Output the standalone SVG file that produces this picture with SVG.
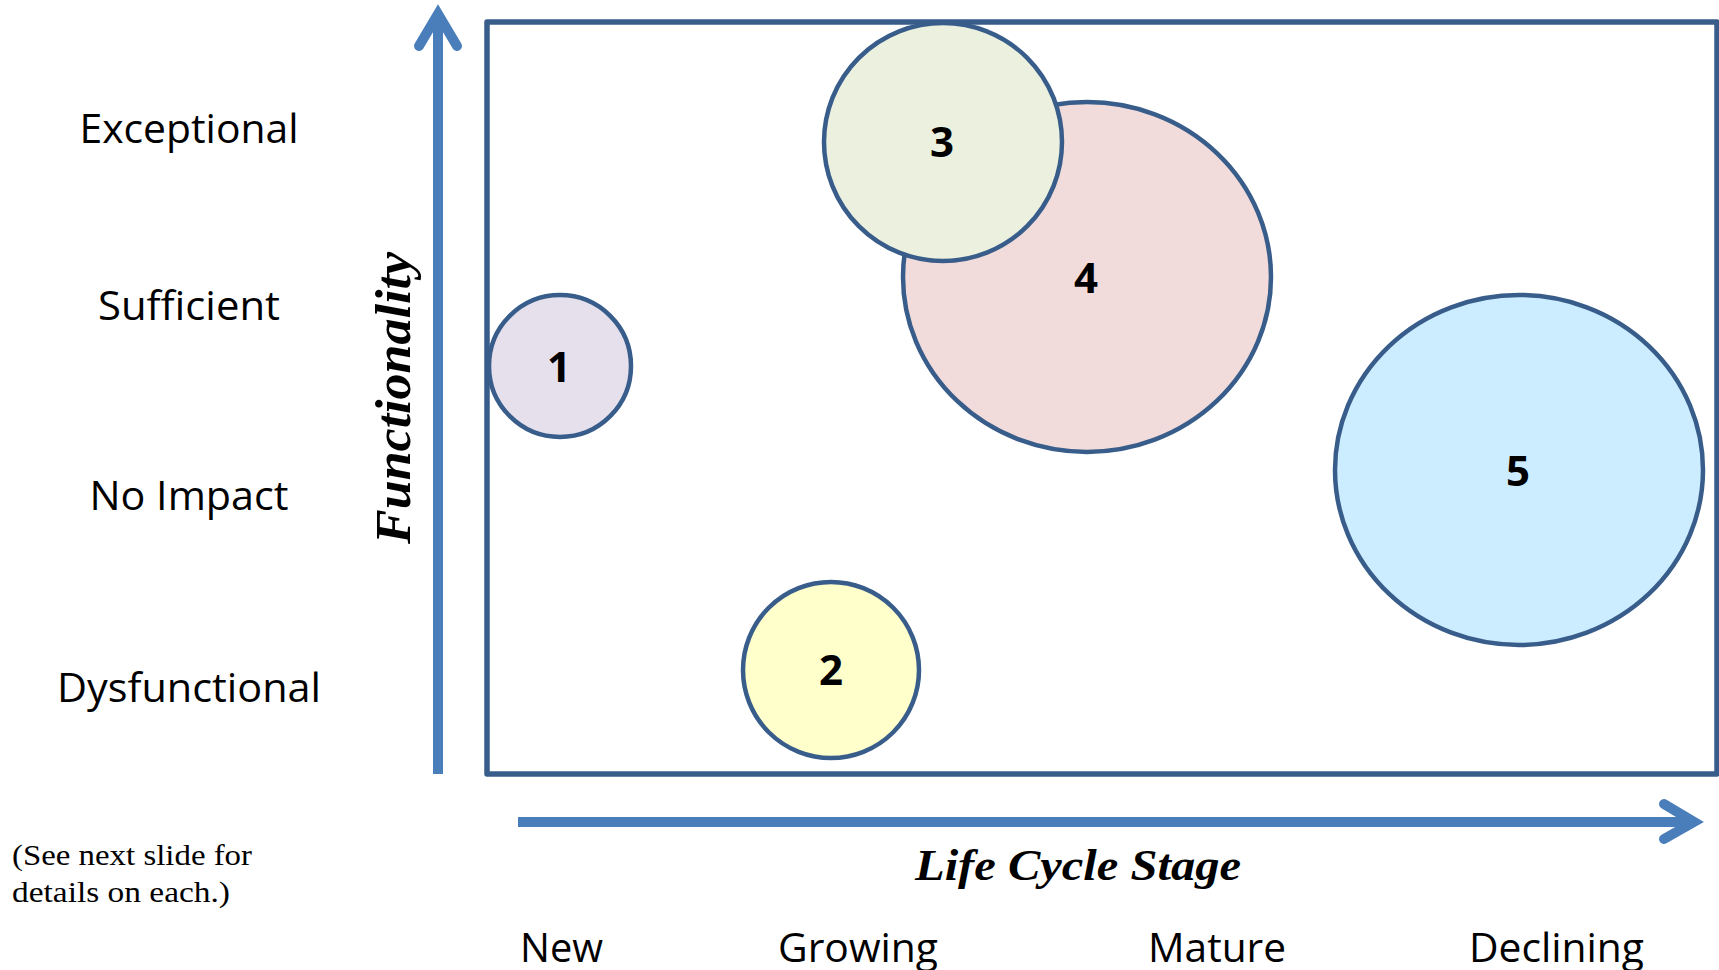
<svg xmlns="http://www.w3.org/2000/svg" width="1719" height="970" viewBox="0 0 1719 970">
  <style>
    .axis { fill: none; stroke: #4A7EBB; stroke-width: 10; }
    .head { fill: none; stroke: #4A7EBB; stroke-width: 10; stroke-linecap: round; stroke-linejoin: miter; }
    .frame { fill: none; stroke: #385D8A; stroke-width: 5.5; stroke-linejoin: round; }
    .bubble { stroke: #385D8A; stroke-width: 4.5; }
    .num { font-family: "Open Sans", "Liberation Sans", sans-serif; font-weight: bold; font-size: 42px; fill: #000; text-anchor: middle; }
    .level { font-family: "Open Sans", "Liberation Sans", sans-serif; font-size: 40px; fill: #000; text-anchor: middle; }
    .stage { font-family: "Open Sans", "Liberation Sans", sans-serif; font-size: 40px; fill: #000; }
    .title { font-family: "Liberation Serif", serif; font-weight: bold; font-style: italic; fill: #000; text-anchor: middle; }
    .note { font-family: "Liberation Serif", serif; font-size: 29px; fill: #000; }
  </style>

  <rect width="1719" height="970" fill="#FFFFFF"/>

  <!-- plot frame -->
  <rect class="frame" x="487" y="22" width="1230" height="752"/>

  <!-- axis arrows -->
  <g id="connectors">
    <line class="axis" x1="438" y1="774" x2="438" y2="18"/>
    <polyline class="head" points="419,46 438,14 457,46"/>
    <line class="axis" x1="518" y1="822" x2="1690" y2="822"/>
    <polyline class="head" points="1664,804 1694,822 1664,839"/>
  </g>

  <!-- bubbles -->
  <g id="node-1">
    <ellipse class="bubble" cx="560" cy="366" rx="71" ry="71" fill="#E6E0EC"/>
    <text class="num" x="559" y="382">1</text>
  </g>
  <g id="node-2">
    <ellipse class="bubble" cx="831" cy="670" rx="88" ry="88" fill="#FFFFCC"/>
    <text class="num" x="831" y="685">2</text>
  </g>
  <g id="node-4">
    <ellipse class="bubble" cx="1087" cy="277" rx="184" ry="175" fill="#F2DCDB"/>
    <text class="num" x="1086" y="293">4</text>
  </g>
  <g id="node-3">
    <ellipse class="bubble" cx="943" cy="142" rx="119" ry="119" fill="#EBF1DE"/>
    <text class="num" x="942" y="157">3</text>
  </g>
  <g id="node-5">
    <ellipse class="bubble" cx="1519" cy="470" rx="184" ry="175" fill="#CCECFF"/>
    <text class="num" x="1518" y="486">5</text>
  </g>

  <!-- vertical axis levels -->
  <g id="levels">
    <text class="level" x="189" y="143" textLength="219" lengthAdjust="spacingAndGlyphs">Exceptional</text>
    <text class="level" x="189" y="320" textLength="182" lengthAdjust="spacingAndGlyphs">Sufficient</text>
    <text class="level" x="189" y="510" textLength="199" lengthAdjust="spacingAndGlyphs">No Impact</text>
    <text class="level" x="189" y="702" textLength="264" lengthAdjust="spacingAndGlyphs">Dysfunctional</text>
  </g>

  <!-- axis titles -->
  <text class="title" font-size="50" transform="translate(410,398) rotate(-90)" textLength="292" lengthAdjust="spacingAndGlyphs">Functionality</text>
  <text class="title" font-size="44" x="1078" y="880" textLength="326" lengthAdjust="spacingAndGlyphs">Life Cycle Stage</text>

  <!-- life cycle stages -->
  <g id="stages">
    <text class="stage" x="520" y="962" textLength="83" lengthAdjust="spacingAndGlyphs">New</text>
    <text class="stage" x="778" y="962" textLength="160" lengthAdjust="spacingAndGlyphs">Growing</text>
    <text class="stage" x="1148" y="962" textLength="138" lengthAdjust="spacingAndGlyphs">Mature</text>
    <text class="stage" x="1469" y="962" textLength="175" lengthAdjust="spacingAndGlyphs">Declining</text>
  </g>

  <!-- footnote -->
  <g id="note">
    <text class="note" x="12" y="865" textLength="240" lengthAdjust="spacingAndGlyphs">(See next slide for</text>
    <text class="note" x="12" y="902" textLength="218" lengthAdjust="spacingAndGlyphs">details on each.)</text>
  </g>
</svg>
